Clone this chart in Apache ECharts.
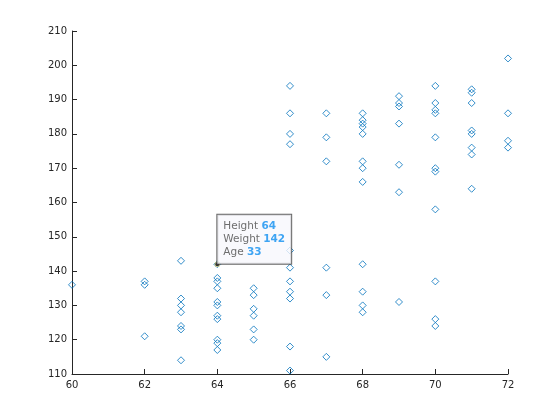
<!DOCTYPE html>
<html>
<head>
<meta charset="utf-8">
<script src="https://cdn.jsdelivr.net/npm/echarts@6/dist/echarts.min.js"></script>
<style>html,body{margin:0;padding:0;background:#fff}#c{width:560px;height:420px}</style>
</head>
<body>
<div id="c"></div>
<script>
var heights = [
  60,
  62, 62, 62,
  63, 63, 63, 63, 63, 63, 63,
  64, 64, 64, 64, 64, 64, 64, 64, 64, 64, 64,
  65, 65, 65, 65, 65, 65,
  66, 66, 66, 66, 66, 66, 66, 66, 66, 66, 66,
  67, 67, 67, 67, 67, 67,
  68, 68, 68, 68, 68, 68, 68, 68, 68, 68, 68, 68,
  69, 69, 69, 69, 69, 69, 69,
  70, 70, 70, 70, 70, 70, 70, 70, 70, 70, 70,
  71, 71, 71, 71, 71, 71, 71, 71,
  72, 72, 72, 72
];
var weights = [
  136,
  137, 136, 121,
  143, 132, 130, 128, 124, 123, 114,
  142, 138, 137, 135, 131, 130, 127, 126, 120, 119, 117,
  135, 133, 129, 127, 123, 120,
  194, 186, 180, 177, 146, 141, 137, 134, 132, 118, 111,
  186, 179, 172, 141, 133, 115,
  186, 184, 183, 182, 180, 172, 170, 166, 142, 134, 130, 128,
  191, 189, 188, 183, 171, 163, 131,
  194, 189, 187, 186, 179, 170, 169, 158, 137, 126, 124,
  193, 192, 189, 181, 180, 176, 174, 164,
  202, 186, 178, 176
];
var xTicks = [60, 62, 64, 66, 68, 70, 72];
var yTicks = [110, 120, 130, 140, 150, 160, 170, 180, 190, 200, 210];
var tipHeight = 64, tipWeight = 142, tipAge = 33;

var pts = heights.map(function (h, i) { return [h, weights[i]]; });
var axisColor = '#262626';
var chart = echarts.init(document.getElementById('c'), null, {renderer: 'canvas'});
chart.setOption({
  animation: false,
  grid: {left: 72, right: 52, top: 31, bottom: 46},
  xAxis: {
    type: 'value', min: xTicks[0], max: xTicks[xTicks.length - 1], interval: 2,
    axisLine: {show: true, lineStyle: {color: axisColor, width: 1}},
    axisTick: {show: true, inside: true, length: 5, lineStyle: {color: axisColor}},
    axisLabel: {color: axisColor, fontFamily: 'DejaVu Sans', fontSize: 10, margin: 6},
    splitLine: {show: false}
  },
  yAxis: {
    type: 'value', min: yTicks[0], max: yTicks[yTicks.length - 1], interval: 10,
    axisLine: {show: true, lineStyle: {color: axisColor, width: 1}},
    axisTick: {show: true, inside: true, length: 5, lineStyle: {color: axisColor}},
    axisLabel: {color: axisColor, fontFamily: 'DejaVu Sans', fontSize: 10, margin: 5},
    splitLine: {show: false}
  },
  series: [
    {
      type: 'scatter', data: pts, symbol: 'diamond', symbolSize: 7,
      itemStyle: {color: 'rgba(0,0,0,0)', borderColor: '#0072BD', borderWidth: 1},
      z: 2
    },
    {
      type: 'scatter', data: [[tipHeight, tipWeight]], symbol: 'circle', symbolSize: 5,
      itemStyle: {color: '#000', borderColor: '#f4f0a0', borderWidth: 1},
      z: 5,
      label: {
        show: true, position: 'top', distance: 0, align: 'left', verticalAlign: 'bottom',
        offset: [0, 2.5],
        backgroundColor: '#f8f8fd', borderColor: '#404040', borderWidth: 1,
        padding: [5, 6, 5, 6],
        fontFamily: 'DejaVu Sans', fontSize: 10.5, lineHeight: 13, color: '#4a4a4a',
        formatter: function () {
          return 'Height {v|' + tipHeight + '}\nWeight {v|' + tipWeight + '}\nAge {v|' + tipAge + '}';
        },
        rich: {v: {color: '#0f8ff0', fontWeight: 'bold', fontFamily: 'DejaVu Sans', fontSize: 10.5, lineHeight: 13}}
      }
    }
  ]
});
</script>
</body>
</html>
